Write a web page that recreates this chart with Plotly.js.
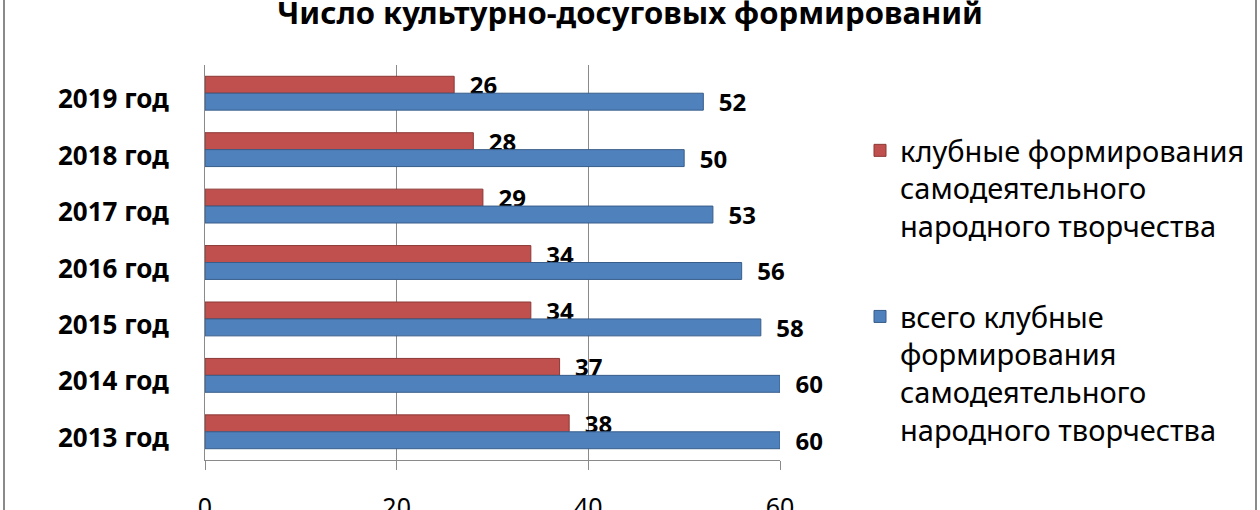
<!DOCTYPE html>
<html>
<head>
<meta charset="utf-8">
<script src="https://cdn.plot.ly/plotly-3.0.1.min.js"></script>
<style>
  html, body { margin: 0; padding: 0; background: #fff; }
  #frame { position: absolute; left: 3px; top: 0; width: 1250px; height: 510px;
           border-left: 2px solid #8a8a8a; border-right: 2px solid #8a8a8a; }
  #chart { position: absolute; left: 0; top: 0; width: 1260px; height: 510px; }
</style>
</head>
<body>
<div id="frame"></div>
<div id="chart"></div>
<script>
// years from top to bottom, as in the picture
const years = ['2019 год', '2018 год', '2017 год', '2016 год', '2015 год', '2014 год', '2013 год'];
const clubValues = [26, 28, 29, 34, 34, 37, 38];
const totalValues = [52, 50, 53, 56, 58, 60, 60];
const seriesNames = [
  'клубные формирования<br>самодеятельного<br>народного творчества',
  'всего клубные<br>формирования<br>самодеятельного<br>народного творчества'
];
const xTicks = [0, 20, 40, 60];

const font = 'Noto Sans, Open Sans, sans-serif';
const pad = '\u00a0\u00a0';

const traces = [
  {
    type: 'bar', orientation: 'h',
    y: years, x: clubValues,
    name: seriesNames[0], legendgroup: 'a',
    marker: { color: '#C0504D', line: { color: '#8C3836', width: 1 } },
    text: clubValues.map(v => pad + v), textposition: 'outside', constraintext: 'none',
    textfont: { family: font, size: 24, color: '#000', weight: 'bold' },
    cliponaxis: false, hoverinfo: 'x+name'
  },
  {
    type: 'bar', orientation: 'h',
    y: years, x: totalValues,
    name: seriesNames[1], legendgroup: 'b',
    marker: { color: '#4F81BD', line: { color: '#385D8A', width: 1 } },
    text: totalValues.map(v => pad + v), textposition: 'outside', constraintext: 'none',
    textfont: { family: font, size: 24, color: '#000', weight: 'bold' },
    cliponaxis: false, hoverinfo: 'x+name'
  }
];

const layout = {
  width: 1260, height: 510,
  margin: { l: 205, r: 480, t: 65, b: 50 },
  paper_bgcolor: 'rgba(0,0,0,0)', plot_bgcolor: 'rgba(0,0,0,0)',
  barmode: 'group', bargap: 0.4, bargroupgap: 0,
  title: {
    text: 'Число культурно-досуговых формирований',
    font: { family: font, size: 31, color: '#000', weight: 'bold' },
    x: 0.5, xref: 'container', y: 1 - 13 / 510, yref: 'container', yanchor: 'middle'
  },
  xaxis: {
    range: [0, 60], tickvals: xTicks, ticktext: xTicks.map(String),
    showgrid: true, gridcolor: '#8a8a8a', gridwidth: 1,
    showline: true, linecolor: '#8a8a8a', linewidth: 1,
    ticks: 'outside', ticklen: 9, tickcolor: '#8a8a8a',
    ticklabelstandoff: 16,
    tickfont: { family: font, size: 25, color: '#000' },
    zeroline: false, fixedrange: true
  },
  yaxis: {
    type: 'category', autorange: 'reversed',
    showgrid: false, showline: true, linecolor: '#8a8a8a', linewidth: 1, ticks: '',
    ticklabelstandoff: 30, ticklabelshift: -6,
    tickfont: { family: font, size: 26, color: '#000', weight: 'bold' },
    fixedrange: true
  },
  showlegend: true,
  legend: {
    xref: 'container', yref: 'container', x: 860 / 1260, xanchor: 'left',
    y: 1 - 125 / 510, yanchor: 'top', maxheight: 420,
    font: { family: font, size: 29, color: '#000' },
    traceorder: 'grouped', tracegroupgap: 50, valign: 'top',
    bgcolor: 'rgba(0,0,0,0)', borderwidth: 0
  }
};

Plotly.newPlot('chart', traces, layout, { displayModeBar: false, staticPlot: true });
</script>
</body>
</html>
